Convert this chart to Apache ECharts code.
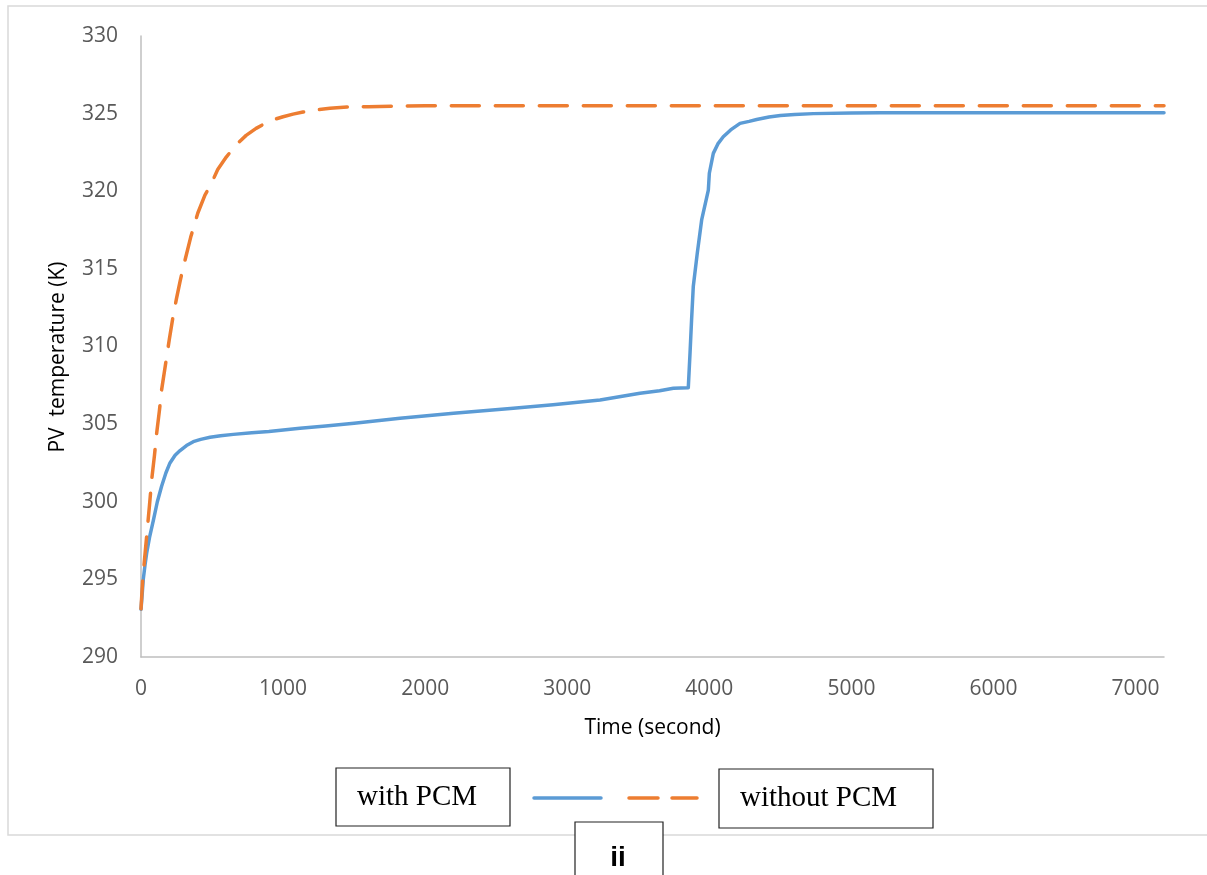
<!DOCTYPE html>
<html>
<head>
<meta charset="utf-8">
<script src="https://cdn.jsdelivr.net/npm/echarts@6/dist/echarts.min.js"></script>
<style>
  html, body { margin: 0; padding: 0; background: #ffffff; }
  #chart { width: 1207px; height: 875px; }
</style>
</head>
<body>
<div id="chart"></div>
<script>
// PV panel temperature over time, with and without phase change material
const seriesNames = ['with PCM', 'without PCM'];

const timeWithPCM = [0, 8, 16, 28, 40, 60, 87, 115, 145, 175, 204, 240, 275, 320, 368, 420, 486, 560, 650, 780, 900, 1119, 1300, 1500, 1823, 2200, 2600, 2900, 3231, 3512, 3650, 3747, 3852, 3864, 3875, 3887, 3915, 3946, 3993, 4000, 4028, 4060, 4098, 4150, 4216, 4280, 4333, 4420, 4500, 4600, 4732, 5000, 5200, 6000, 7200];
const tempWithPCM = [293.07, 294.0, 295.0, 295.9, 296.7, 297.7, 298.8, 300.0, 301.0, 301.85, 302.5, 303.0, 303.3, 303.62, 303.87, 304.02, 304.15, 304.25, 304.34, 304.44, 304.52, 304.73, 304.88, 305.05, 305.38, 305.7, 306.0, 306.25, 306.55, 306.99, 307.15, 307.31, 307.35, 309.56, 311.71, 313.86, 316.0, 318.15, 320.08, 321.16, 322.44, 323.05, 323.51, 323.95, 324.37, 324.5, 324.62, 324.78, 324.88, 324.95, 325.0, 325.04, 325.05, 325.05, 325.05];

const timeWithoutPCM = [0, 12, 25, 40, 60, 75, 95, 110, 130, 145, 170, 200, 225, 250, 275, 300, 350, 400, 450, 490, 540, 600, 670, 740, 810, 880, 940, 1000, 1070, 1140, 1230, 1330, 1450, 1600, 1800, 2000, 3000, 4000, 5000, 6000, 7200];
const tempWithoutPCM = [293.1, 295.0, 296.3, 297.8, 299.8, 301.4, 303.0, 304.4, 305.9, 307.2, 308.7, 310.5, 311.9, 313.1, 314.2, 315.2, 317.05, 318.6, 319.75, 320.4, 321.4, 322.2, 323.0, 323.6, 324.05, 324.4, 324.63, 324.8, 324.97, 325.1, 325.24, 325.35, 325.42, 325.45, 325.48, 325.5, 325.5, 325.5, 325.5, 325.5, 325.5];

const xTitle = 'Time (second)';
const yTitle = 'PV  temperature (K)';
const panelTag = 'ii';

const colors = ['#5b9bd5', '#ed7d31'];
const pair = (xs, ys) => xs.map((x, i) => [x, ys[i]]);

const chart = echarts.init(document.getElementById('chart'), null, { renderer: 'canvas' });

const labelFont = { fontFamily: 'Open Sans', fontSize: 21, color: '#595959' };
const legendFont = 'Liberation Serif';

chart.setOption({
  backgroundColor: '#ffffff',
  animation: false,
  grid: { left: 141, right: 43, top: 36, bottom: 218, containLabel: false },
  xAxis: {
    type: 'value',
    min: 0, max: 7200, interval: 1000,
    name: xTitle,
    nameLocation: 'middle',
    nameGap: 61,
    nameTextStyle: { fontFamily: 'Open Sans', fontSize: 21, color: '#000000' },
    axisLine: { show: true, onZero: false, lineStyle: { color: '#bfbfbf', width: 1.5 } },
    axisTick: { show: false },
    splitLine: { show: false },
    axisLabel: Object.assign({ margin: 22, showMaxLabel: false, showMinLabel: true,
      formatter: v => String(v) }, labelFont)
  },
  yAxis: {
    type: 'value',
    min: 290, max: 330, interval: 5,
    axisLine: { show: true, lineStyle: { color: '#bfbfbf', width: 1.5 } },
    axisTick: { show: false },
    splitLine: { show: false },
    axisLabel: Object.assign({ margin: 23, formatter: v => String(v) }, labelFont)
  },
  series: [
    {
      name: seriesNames[0],
      type: 'line',
      data: pair(timeWithPCM, tempWithPCM),
      showSymbol: false,
      smooth: false,
      lineStyle: { color: colors[0], width: 3.5, cap: 'round', join: 'round' },
      z: 2
    },
    {
      name: seriesNames[1],
      type: 'line',
      data: pair(timeWithoutPCM, tempWithoutPCM),
      showSymbol: false,
      smooth: false,
      lineStyle: { color: colors[1], width: 3.5, type: [28, 16], cap: 'round', join: 'round' },
      z: 3
    }
  ],
  graphic: [
    // chart frame
    { type: 'rect', z: 0, silent: true,
      shape: { x: 8, y: 6, width: 1220, height: 829 },
      style: { fill: null, stroke: '#d9d9d9', lineWidth: 1.5 } },
    // vertical axis title
    { type: 'text', z: 5, x: 58, y: 357, rotation: Math.PI / 2,
      style: { text: yTitle, fontFamily: 'Open Sans', fontSize: 21, fill: '#000000', textAlign: 'center', textVerticalAlign: 'middle' } },
    // legend: boxed labels with line samples between them
    { type: 'rect', z: 10,
      shape: { x: 336, y: 768, width: 174, height: 58 },
      style: { fill: '#ffffff', stroke: '#222222', lineWidth: 1.2 } },
    { type: 'text', z: 11, x: 357, y: 797,
      style: { text: seriesNames[0], fontFamily: legendFont, fontSize: 29, fill: '#000000', textVerticalAlign: 'middle', textAlign: 'left' } },
    { type: 'line', z: 10,
      shape: { x1: 534, y1: 798, x2: 601, y2: 798 },
      style: { stroke: colors[0], lineWidth: 3.5, lineCap: 'round' } },
    { type: 'line', z: 10,
      shape: { x1: 629, y1: 798, x2: 697, y2: 798 },
      style: { stroke: colors[1], lineWidth: 3.5, lineCap: 'round', lineDash: [29, 14] } },
    { type: 'rect', z: 10,
      shape: { x: 719, y: 769, width: 214, height: 59 },
      style: { fill: '#ffffff', stroke: '#222222', lineWidth: 1.2 } },
    { type: 'text', z: 11, x: 740, y: 798,
      style: { text: seriesNames[1], fontFamily: legendFont, fontSize: 29, fill: '#000000', textVerticalAlign: 'middle', textAlign: 'left' } },
    // panel tag
    { type: 'rect', z: 10,
      shape: { x: 575, y: 822, width: 88, height: 70 },
      style: { fill: '#ffffff', stroke: '#222222', lineWidth: 1.2 } },
    { type: 'text', z: 11, x: 618, y: 858,
      style: { text: panelTag, fontFamily: 'Liberation Sans', fontWeight: 'bold', fontSize: 28, fill: '#000000', textVerticalAlign: 'middle', textAlign: 'center' } }
  ]
});
</script>
</body>
</html>
